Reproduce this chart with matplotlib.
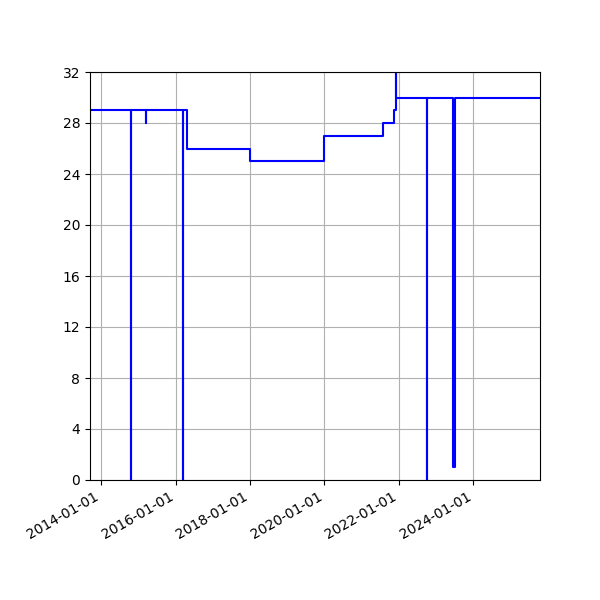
import matplotlib
matplotlib.use("Agg")
import matplotlib.pyplot as plt
import matplotlib.dates as mdates
import pandas as pd

# change points of the step series (date, value from that date on)
dates = [
    "2013-09-14", "2013-09-15", "2014-10-19", "2014-10-20", "2015-03-15",
    "2015-03-16", "2016-03-15", "2016-03-16", "2016-04-27", "2018-01-01",
    "2020-01-01", "2021-07-27", "2021-11-12", "2021-11-29", "2021-12-01",
    "2022-09-30", "2022-10-01", "2023-06-15", "2023-07-05", "2025-10-16",
]
values = [28, 29, 0, 29, 28,
          29, 0, 29, 26, 25,
          27, 28, 29, 32, 30,
          0, 30, 1, 30, 30]
y_ticks = [0, 4, 8, 12, 16, 20, 24, 28, 32]

x = pd.to_datetime(dates)

fig, ax = plt.subplots(figsize=(6, 6), dpi=100)
ax.plot(x, values, color="blue", drawstyle="steps-post", linewidth=1.5)
ax.set_xlim(x[0], x[-1])
ax.set_ylim(0, 32)
ax.set_yticks(y_ticks)
ax.xaxis.set_major_locator(mdates.YearLocator(2))
ax.xaxis.set_major_formatter(mdates.DateFormatter("%Y-%m-%d"))
ax.grid(True)
fig.autofmt_xdate()
fig.subplots_adjust(left=0.15, right=0.9, top=0.88, bottom=0.2)
fig.savefig("out.png", dpi=100)
